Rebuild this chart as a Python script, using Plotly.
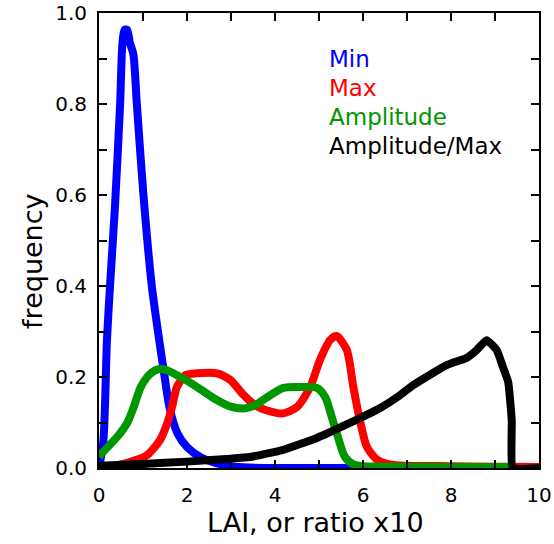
import plotly.graph_objects as go

# Frequency distributions of LAI statistics
min_x = [0.0, 0.1, 0.18, 0.25, 0.36, 0.48, 0.53, 0.58, 0.64, 0.70, 0.78, 0.86, 1.01, 1.2, 1.37,
         1.48, 1.6, 1.78, 2.0, 2.3, 2.68, 3.0, 3.4, 4.0, 5.0, 6.0, 7.0, 8.0, 9.0, 9.45]
min_y = [0.0, 0.06, 0.28, 0.40, 0.57, 0.80, 0.93, 0.963, 0.963, 0.935, 0.91, 0.80, 0.60, 0.40, 0.28,
         0.208, 0.134, 0.077, 0.046, 0.024, 0.01, 0.004, 0.001, 0.0, 0.0, 0.0, 0.0, 0.0, 0.0, 0.0]

max_x = [0.0, 0.3, 0.7, 1.09, 1.39, 1.55, 1.66, 1.77, 1.96, 2.22, 2.68, 2.98, 3.29, 3.55, 3.8,
         4.19, 4.5, 4.8, 5.02, 5.25, 5.4, 5.63, 5.78, 5.93, 6.09, 6.32, 6.6, 7.0, 8.0, 9.0, 10.0]
max_y = [0.0, 0.004, 0.013, 0.028, 0.062, 0.098, 0.134, 0.178, 0.204, 0.208, 0.208, 0.194, 0.16,
         0.138, 0.127, 0.12, 0.134, 0.178, 0.237, 0.281, 0.29, 0.26, 0.178, 0.105, 0.046, 0.018,
         0.008, 0.005, 0.004, 0.003, 0.002]

amp_x = [0.0, 0.07, 0.41, 0.64, 0.79, 0.94, 1.08, 1.2, 1.35, 1.5, 1.85, 2.23, 2.6, 2.99, 3.3, 3.55,
         3.8, 4.19, 4.57, 4.95, 5.14, 5.29, 5.43, 5.59, 5.78, 6.0, 6.5, 7.0, 8.0, 9.0, 9.41]
amp_y = [0.024, 0.033, 0.068, 0.099, 0.134, 0.176, 0.198, 0.21, 0.217, 0.216, 0.2, 0.178, 0.154,
         0.135, 0.131, 0.138, 0.154, 0.176, 0.178, 0.176, 0.156, 0.112, 0.068, 0.024, 0.008, 0.004,
         0.003, 0.003, 0.002, 0.002, 0.002]

ratio_x = [0.0, 1.0, 2.0, 2.9, 3.43, 4.19, 4.95, 5.7, 6.39, 6.84, 7.14, 7.9, 8.35, 8.58, 8.81,
           9.04, 9.18, 9.3, 9.38, 9.41, 10.0]
ratio_y = [0.005, 0.009, 0.014, 0.02, 0.024, 0.04, 0.066, 0.099, 0.132, 0.16, 0.182, 0.226, 0.242,
           0.259, 0.281, 0.259, 0.222, 0.189, 0.105, 0.0, 0.0]

series = [
    ("Min", min_x, min_y, "#0000FF", 0.7),
    ("Max", max_x, max_y, "#FF0000", 0.7),
    ("Amplitude", amp_x, amp_y, "#009600", 0.8),
    ("Amplitude/Max", ratio_x, ratio_y, "#000000", 0.4),
]

x_ticks = list(range(0, 11))
x_ticktext = [str(v) if v % 2 == 0 else "" for v in x_ticks]
y_ticks = [i / 10 for i in range(0, 11)]
y_ticktext = [f"{v:.1f}" if i % 2 == 0 else "" for i, v in enumerate(y_ticks)]

FONT = "DejaVu Sans"

fig = go.Figure()
for name, xs, ys, color, smooth in series:
    fig.add_trace(go.Scatter(x=xs, y=ys, mode="lines", name=name,
                             line=dict(color=color, width=8, shape="spline", smoothing=smooth)))

# text legend in the upper right
legend_y = [0.899, 0.835, 0.771, 0.708]
for (name, _, _, color, _), ly in zip(series, legend_y):
    fig.add_annotation(x=5.18, y=ly, xref="x", yref="y", text=name, showarrow=False,
                       xanchor="left", yanchor="middle",
                       font=dict(family=FONT, size=23, color=color))

fig.add_annotation(x=0.493, y=-0.119, xref="paper", yref="paper", text="LAI, or ratio x10",
                   showarrow=False, xanchor="center", yanchor="middle",
                   font=dict(family=FONT, size=27, color="black"))
fig.add_annotation(x=-0.15, y=0.453, xref="paper", yref="paper", text="frequency",
                   showarrow=False, xanchor="center", yanchor="middle", textangle=-90,
                   font=dict(family=FONT, size=27, color="black"))

axis_common = dict(showline=True, linecolor="black", linewidth=2, mirror="ticks",
                   ticks="inside", ticklen=8, tickwidth=2, tickcolor="black",
                   showgrid=False, zeroline=False, automargin=False,
                   tickfont=dict(family=FONT, size=20, color="black"))

fig.update_xaxes(range=[0, 10], tickmode="array", tickvals=x_ticks, ticktext=x_ticktext,
                 ticklabelstandoff=8, **axis_common)
fig.update_yaxes(range=[0, 1], tickmode="array", tickvals=y_ticks, ticktext=y_ticktext,
                 ticklabelstandoff=6, **axis_common)

fig.update_layout(width=554, height=544, margin=dict(l=99, r=15, t=13, b=76),
                  paper_bgcolor="white", plot_bgcolor="white", showlegend=False)

fig.write_html("out.html")
